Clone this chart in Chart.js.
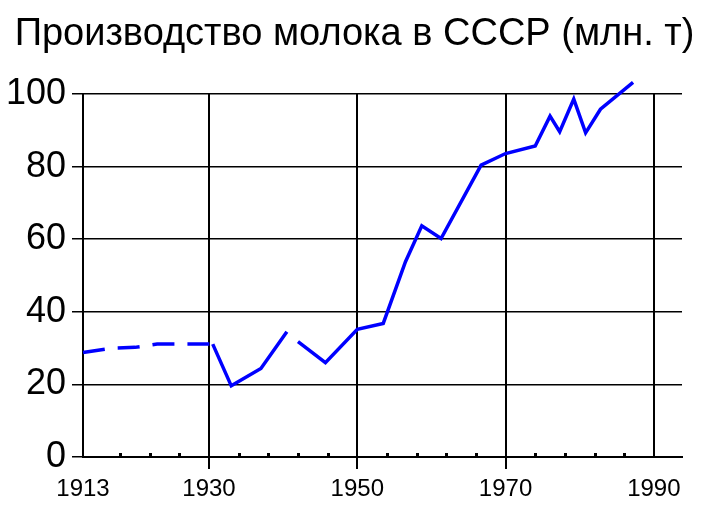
<!DOCTYPE html>
<html>
<head>
<meta charset="utf-8">
<script src="https://cdn.jsdelivr.net/npm/chart.js@4"></script>
<style>
  body { margin: 0; background: #fff; }
</style>
</head>
<body>
<canvas id="milkCanvas" width="709" height="512"></canvas>
<script>
// dashed part (до 1930)
const prewarYears  = [1913, 1917, 1920, 1923, 1930.5];
const prewarValues = [28.8, 30.0, 30.2, 31.1, 31.1];

// solid part, null = разрыв (война)
const years  = [1930.5, 1933, 1937, 1940.5, 1941, 1942, 1945.7, 1950, 1953.5, 1956.5, 1958.7, 1961.3, 1966.7, 1970, 1974, 1976, 1977.3, 1979.2, 1980.8, 1982.8, 1987.2];
const values = [31.1, 19.6, 24.4, 34.5, null, 31.8, 26.0, 35.2, 36.8, 53.8, 63.7, 60.2, 80.4, 83.6, 85.7, 93.9, 89.6, 98.6, 89.3, 95.8, 103.2];

const xTicks = [1913, 1930, 1950, 1970, 1990];
const yTicks = [0, 20, 40, 60, 80, 100];
const minorYears = [1918, 1922, 1926, 1934, 1938, 1942, 1946, 1954, 1958, 1962, 1966, 1974, 1978, 1982, 1986];

const fontFam = "'Liberation Sans', Arial, sans-serif";
const blue = 'rgb(0, 0, 255)';

function toPoints(xs, ys){
    return xs.map((x, i) => ({x: x, y: ys[i]}));
}

// маленькие точки-засечки на оси X
const minorTicks = {
    id: 'minorTicks',
    afterDraw(chart){
        const ctx = chart.ctx;
        const xs = chart.scales.x;
        const bottom = chart.chartArea.bottom;
        ctx.save();
        ctx.fillStyle = '#000';
        minorYears.forEach(yr => {
            const px = Math.round(xs.getPixelForValue(yr));
            ctx.fillRect(px - 1, bottom - 4, 3, 3);
        });
        ctx.restore();
    }
};

const milkChart = new Chart(document.getElementById('milkCanvas'), {
    type: 'line',
    data: {
        datasets: [{
            data: toPoints(prewarYears, prewarValues),
            borderColor: blue,
            borderWidth: 3.5,
            borderDash: [22, 13],
            pointRadius: 0,
            tension: 0,
            clip: false
        }, {
            data: toPoints(years, values),
            borderColor: blue,
            borderWidth: 3.5,
            pointRadius: 0,
            tension: 0,
            spanGaps: false,
            clip: false
        }]
    },
    options: {
        responsive: false,
        animation: false,
        devicePixelRatio: 1,
        layout: { padding: 0 },
        plugins: {
            legend: { display: false },
            tooltip: { enabled: false },
            title: {
                display: true,
                text: 'Производство молока в СССР (млн. т)',
                color: '#000',
                font: { family: fontFam, size: 38, weight: 'normal' },
                padding: { top: 12, bottom: 36.4 }
            }
        },
        scales: {
            x: {
                type: 'linear',
                min: 1913,
                max: 1993.8,
                afterBuildTicks: s => { s.ticks = xTicks.map(v => ({value: v})); },
                afterFit: s => { s.height = 55; },
                ticks: {
                    color: '#000',
                    font: { family: fontFam, size: 24 },
                    padding: 6,
                    maxRotation: 0,
                    callback: v => String(v)
                },
                grid: {
                    color: '#000',
                    lineWidth: 2,
                    tickLength: 12,
                    tickColor: c => (c.tick && (c.tick.value === 1913 || c.tick.value === 1990)) ? 'rgba(0,0,0,0)' : '#000'
                },
                border: { display: true, color: '#000', width: 2 }
            },
            y: {
                min: 0,
                max: 100,
                afterBuildTicks: s => { s.ticks = yTicks.map(v => ({value: v})); },
                afterFit: s => { s.width = 83; },
                ticks: {
                    color: '#000',
                    font: { family: fontFam, size: 36 },
                    padding: 6
                },
                grid: {
                    color: '#000',
                    lineWidth: 1.5,
                    tickLength: 11
                },
                border: { display: true, color: '#000', width: 2 }
            },
            // пустая ось справа, только для отступа
            yRight: {
                position: 'right',
                min: 0,
                max: 100,
                afterFit: s => { s.width = 27; },
                ticks: { display: false },
                grid: { display: false },
                border: { display: false }
            }
        }
    },
    plugins: [minorTicks]
});
</script>
</body>
</html>
